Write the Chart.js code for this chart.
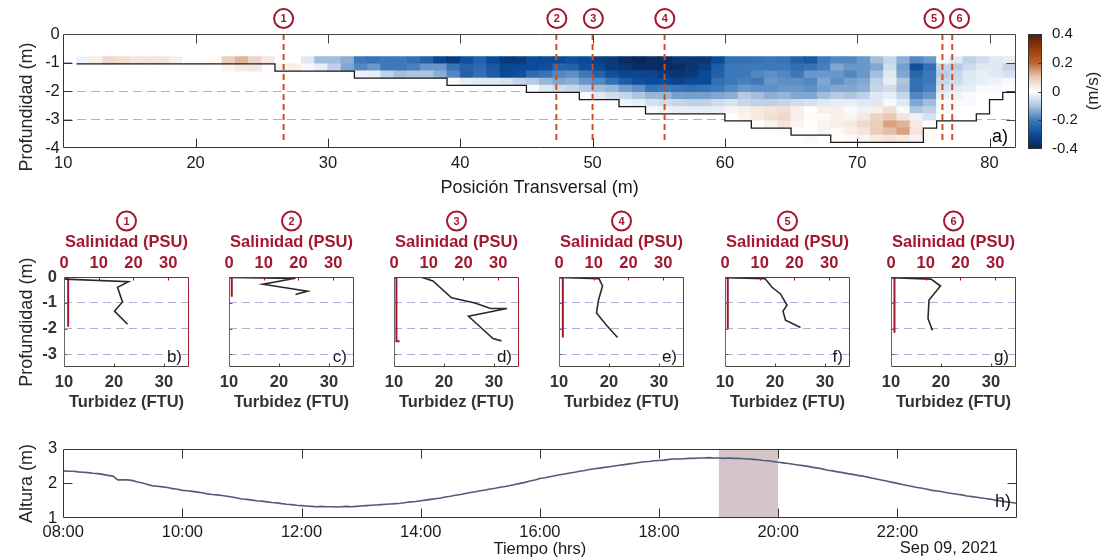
<!DOCTYPE html>
<html>
<head>
<meta charset="utf-8">
<script src="https://cdn.jsdelivr.net/npm/chart.js@4.4.1/dist/chart.umd.min.js"></script>
<style>
  body { margin: 0; background: #fff; }
  #fig { position: relative; width: 1104px; height: 558px; overflow: hidden; background: #fff; }
  #fig canvas { position: absolute; }
</style>
</head>
<body>
<div id="fig"></div>
<script>
// ---------- data ----------
const _ = null;

// velocity section: cells 1 m wide, 0.25 m tall; each row starts at velFirstCol
const depthEdges = [-0.8, -1.05, -1.3, -1.55, -1.8, -2.05, -2.3, -2.55, -2.8, -3.05, -3.3, -3.55, -3.8];
const velFirstCol = [11, 19, 32, 39, 45, 49, 52, 54, 60, 62, 64, 65];
const velocity = [
  [-0.02, 0.03, 0.07, 0.06, 0.05, 0.05, 0.05, 0.03, 0.00, 0.00,
    0.01, 0.09, 0.12, 0.08, 0.04, 0.00, 0.00, -0.04, -0.11, -0.11,
   -0.13, -0.20, -0.21, -0.20, -0.20, -0.22, -0.25, -0.31, -0.34, -0.29,
   -0.25, -0.30, -0.34, -0.34, -0.30, -0.30, -0.30, -0.29, -0.30, -0.33,
   -0.34, -0.37, -0.39, -0.37, -0.37, -0.35, -0.35, -0.35, -0.30, -0.22,
   -0.22, -0.21, -0.20, -0.21, -0.25, -0.27, -0.20, -0.18, -0.18, -0.16,
   -0.11, -0.07, -0.13, -0.18, -0.16, -0.01, -0.04, -0.08, -0.06, -0.04, -0.03],
  [0.01, 0.01, 0.00, 0.02, 0.04, 0.04, _, 0.02, 0.03, -0.01, -0.03, -0.08,
   -0.14, -0.18, -0.16, -0.20, -0.20, -0.19, -0.16, -0.16, -0.21, -0.25,
   -0.23, -0.27, -0.31, -0.30, -0.30, -0.29, -0.24, -0.25, -0.29, -0.31,
   -0.34, -0.35, -0.37, -0.37, -0.38, -0.37, -0.35, -0.33, -0.26, -0.20,
   -0.20, -0.20, -0.20, -0.20, -0.22, -0.21, -0.19, -0.14, -0.16, -0.16,
   -0.14, -0.06, -0.15, -0.29, -0.22, -0.07, -0.09, -0.06, -0.04, -0.04, -0.07],
  [-0.02, -0.03, -0.08, -0.11, -0.10, -0.10, -0.13, -0.18, -0.25,
   -0.22, -0.26, -0.30, -0.29, -0.23, -0.21, -0.18, -0.17, -0.20, -0.25,
   -0.29, -0.31, -0.31, -0.31, -0.34, -0.35, -0.34, -0.30, -0.25, -0.20,
   -0.20, -0.18, -0.17, -0.18, -0.20, -0.16, -0.16, -0.16, -0.18, -0.16,
   -0.11, -0.04, -0.14, -0.24, -0.20, -0.09, -0.07, -0.04, -0.03, -0.04, -0.05],
  [-0.01, -0.03, -0.04, -0.04, -0.05, -0.07, -0.09, -0.12, -0.14, -0.13, -0.16, -0.18,
   -0.22, -0.26, -0.29, -0.30, -0.30, -0.32, -0.30, -0.30, -0.22, -0.20,
   -0.19, -0.20, -0.16, -0.17, -0.17, -0.18, -0.14, -0.17, -0.15, -0.14,
   -0.08, -0.03, -0.10, -0.22, -0.20, -0.07, -0.06, -0.04, -0.03, -0.02, -0.01],
  [-0.01, -0.04, -0.06, -0.07, -0.09, -0.11,
   -0.12, -0.15, -0.17, -0.21, -0.20, -0.21, -0.22, -0.21, -0.20, -0.18,
   -0.16, -0.17, -0.17, -0.16, -0.16, -0.17, -0.15, -0.14, -0.14, -0.13,
   -0.07, -0.06, -0.11, -0.22, -0.19, -0.05, -0.04, -0.03, -0.01, -0.01, 0.00],
  [-0.01, -0.04,
   -0.06, -0.07, -0.10, -0.12, -0.12, -0.15, -0.15, -0.15, -0.14, -0.13,
   -0.09, -0.11, -0.13, -0.12, -0.14, -0.14, -0.11, -0.09, -0.10, -0.08,
   -0.04, -0.03, -0.07, -0.18, -0.16, -0.03, -0.02, -0.01, 0.00, 0.00],
  [-0.02, -0.03, -0.05, -0.06, -0.07, -0.08, -0.08, -0.06, -0.05,
   -0.07, -0.08, -0.08, -0.07, -0.06, -0.05, -0.04, -0.03, -0.03, -0.04,
   -0.04, -0.01, -0.04, -0.14, -0.11, -0.01, -0.01, -0.01, 0.00],
  [-0.01, -0.02, -0.03, -0.03, -0.03, -0.03, 0.02,
    0.03, 0.04, 0.05, 0.06, 0.03, 0.00, 0.03, 0.03, -0.01, -0.02,
    0.03, 0.06, -0.01, -0.10, -0.08, -0.01, 0.00, 0.00, 0.00],
  [0.00, 0.02, 0.04, 0.06, 0.07, 0.03, 0.01, 0.01, 0.03, 0.02, 0.04,
   0.08, 0.10, 0.05, -0.02, -0.05, 0.00, 0.00, 0.00],
  [0.00, 0.02, 0.05, 0.02, 0.00, 0.02, 0.03, 0.04, 0.07,
   0.09, 0.14, 0.12, 0.04, 0.00],
  [0.01, 0.00, 0.00, 0.02, 0.01, 0.03, 0.05,
   0.09, 0.11, 0.14, 0.05, 0.01],
  [0.00, -0.01, 0.00, 0.00, 0.01, 0.02,
   0.04, 0.05, 0.04, 0.02, 0.01]
];

// bottom profile (depth from each x to the next)
const bathX = [11, 26, 32, 39, 45, 49, 52, 54, 60, 62, 65, 68, 75, 76, 79, 80, 81, 82];
const bathZ = [-1.05, -1.3, -1.55, -1.8, -2.05, -2.3, -2.55, -2.8, -3.05, -3.3, -3.55, -3.8, -3.3, -3.05, -2.8, -2.3, -2.05, -2.05];

// profile stations (line position, and where its circled number sits)
const stationX = [26.65, 47.26, 50.0, 55.44, 76.44, 77.18];
const stationLabelX = [26.65, 47.3, 50.06, 55.46, 75.8, 77.73];
const stationLabel = ['1', '2', '3', '4', '5', '6'];

// colour scale (m/s)
const cmapValue = [-0.4, -0.3, -0.2, -0.1, 0, 0.1, 0.2, 0.3, 0.4];
const cmapColor = ['#0a2150', '#0b4a98', '#3c78ba', '#aec5e0', '#ffffff', '#e8c9b6', '#c0622c', '#963a0c', '#4f1a07'];

// vertical profiles at the six stations
const salinityPSU = [
  [0, 1.2, 1.2],
  [0, 0.8, 0.8],
  [0, 0.7, 0.7, 1.6],
  [0, 1.1, 1.1],
  [0, 0.8, 0.8],
  [0, 1.0, 1.0]
];
const salinityDepth = [
  [0, -0.04, -1.93],
  [0, -0.03, -0.76],
  [0, -0.04, -2.5, -2.5],
  [0, -0.03, -2.35],
  [0, -0.03, -2.0],
  [0, -0.03, -2.16]
];
const turbidityFTU = [
  [10.2, 22.9, 20.7, 21.7, 20.1, 22.7],
  [10.3, 23.3, 16.8, 25.7, 23.3],
  [15.5, 17.8, 21.5, 26.2, 29.3, 32.6, 24.9, 27.2, 29.8, 31.5],
  [10.2, 18.0, 18.7, 17.9, 17.5, 19.5, 21.7],
  [10.2, 18.0, 19.4, 21.1, 22.4, 21.6, 22.1, 25.1],
  [10.2, 18.0, 19.9, 17.6, 17.4, 17.9, 18.3]
];
const turbidityDepth = [
  [-0.07, -0.17, -0.39, -0.96, -1.32, -1.83],
  [-0.01, -0.04, -0.27, -0.54, -0.67],
  [0, -0.14, -0.8, -1.0, -1.22, -1.22, -1.52, -1.93, -2.39, -2.48],
  [-0.01, -0.05, -0.34, -0.89, -1.39, -1.87, -2.35],
  [-0.02, -0.05, -0.39, -0.65, -1.09, -1.32, -1.67, -1.96],
  [-0.02, -0.07, -0.34, -0.89, -1.61, -1.87, -2.07]
];
const panelTag = ['b)', 'c)', 'd)', 'e)', 'f)', 'g)'];

// water level, every 5 minutes from 08:00
const tideStartHour = 8;
const tideStepMin = 5;
const tideLevel = [
  2.36, 2.35, 2.35, 2.33, 2.32, 2.31, 2.29, 2.28, 2.26, 2.23, 2.21, 2.10,
  2.10, 2.10, 2.08, 2.04, 2.01, 1.97, 1.93, 1.92, 1.90, 1.88, 1.85, 1.83,
  1.80, 1.79, 1.77, 1.75, 1.73, 1.70, 1.68, 1.67, 1.65, 1.63, 1.61, 1.58,
  1.55, 1.54, 1.52, 1.50, 1.49, 1.47, 1.45, 1.44, 1.42, 1.40, 1.39, 1.37,
  1.36, 1.35, 1.34, 1.33, 1.34, 1.33, 1.33, 1.32, 1.33, 1.34, 1.33, 1.34,
  1.35, 1.36, 1.37, 1.38, 1.39, 1.40, 1.41, 1.42, 1.43, 1.45, 1.47, 1.48,
  1.50, 1.52, 1.54, 1.56, 1.58, 1.61, 1.63, 1.66, 1.68, 1.71, 1.74, 1.76,
  1.79, 1.81, 1.84, 1.86, 1.89, 1.91, 1.94, 1.97, 2.00, 2.03, 2.07, 2.10,
  2.14, 2.16, 2.19, 2.22, 2.25, 2.27, 2.30, 2.32, 2.35, 2.37, 2.40, 2.42,
  2.44, 2.46, 2.48, 2.50, 2.52, 2.54, 2.56, 2.58, 2.60, 2.62, 2.63, 2.65,
  2.66, 2.67, 2.69, 2.70, 2.70, 2.71, 2.72, 2.72, 2.73, 2.73, 2.74, 2.73,
  2.73, 2.72, 2.73, 2.72, 2.72, 2.71, 2.70, 2.69, 2.68, 2.66, 2.65, 2.63,
  2.61, 2.59, 2.57, 2.55, 2.53, 2.51, 2.49, 2.46, 2.44, 2.41, 2.38, 2.36,
  2.33, 2.31, 2.28, 2.26, 2.23, 2.21, 2.18, 2.15, 2.12, 2.09, 2.06, 2.03,
  2.00, 1.97, 1.94, 1.91, 1.88, 1.86, 1.83, 1.80, 1.78, 1.76, 1.73, 1.71,
  1.69, 1.67, 1.64, 1.62, 1.60, 1.58, 1.56, 1.54, 1.51, 1.49, 1.47, 1.45,
  1.43
];
const sampledHours = [19, 20];

// ---------- helpers ----------
const FONT = "'Liberation Sans', Arial, Helvetica, sans-serif";
const RED = '#a3172f';
const DARK = '#262626';
const GRID = 'rgba(135,140,195,0.7)';

Chart.defaults.font.family = FONT;
Chart.defaults.color = DARK;
Chart.defaults.animation = false;
Chart.defaults.plugins.legend.display = false;
Chart.defaults.plugins.tooltip.enabled = false;

function addCanvas(left, top, w, h) {
  const c = document.createElement('canvas');
  c.width = w; c.height = h;
  c.style.left = left + 'px'; c.style.top = top + 'px';
  c.style.width = w + 'px'; c.style.height = h + 'px';
  document.getElementById('fig').appendChild(c);
  return c;
}

function hexToRgb(h) {
  const n = parseInt(h.slice(1), 16);
  return [(n >> 16) & 255, (n >> 8) & 255, n & 255];
}

function velColor(v) {
  v = Math.max(-0.4, Math.min(0.4, v));
  for (let i = 0; i < cmapValue.length - 1; i++) {
    if (v <= cmapValue[i + 1]) {
      const t = (v - cmapValue[i]) / (cmapValue[i + 1] - cmapValue[i]);
      const a = hexToRgb(cmapColor[i]), b = hexToRgb(cmapColor[i + 1]);
      return 'rgb(' + a.map((c, k) => Math.round(c + (b[k] - c) * t)).join(',') + ')';
    }
  }
  return cmapColor[cmapColor.length - 1];
}

function fixedTicks(values) {
  return s => { s.ticks = values.map(v => ({ value: v })); };
}

// dashed grid only inside the box, not on its edges
function innerGrid(edges) {
  return c => (c.tick && edges.includes(c.tick.value)) ? 'rgba(0,0,0,0)' : GRID;
}

// box round the plot area with inward tick marks, MATLAB style
function framePlugin(sides) {
  return {
    id: 'frame',
    afterDatasetsDraw(chart) {
      const ctx = chart.ctx, a = chart.chartArea;
      const L = Math.round(a.left) + 0.5, R = Math.round(a.right) - 0.5;
      const T = Math.round(a.top) + 0.5, B = Math.round(a.bottom) - 0.5;
      ctx.save();
      ctx.setLineDash([]);
      sides.forEach(s => {
        ctx.strokeStyle = s.color;
        ctx.lineWidth = 1;
        ctx.beginPath();
        if (s.side === 'bottom') { ctx.moveTo(L, B); ctx.lineTo(R, B); }
        if (s.side === 'top') { ctx.moveTo(L, T); ctx.lineTo(R, T); }
        if (s.side === 'left') { ctx.moveTo(L, T); ctx.lineTo(L, B); }
        if (s.side === 'right') { ctx.moveTo(R, T); ctx.lineTo(R, B); }
        const sc = chart.scales[s.axis];
        (s.ticks || []).forEach(v => {
          const p = Math.round(sc.getPixelForValue(v)) + 0.5;
          if (s.side === 'bottom') { ctx.moveTo(p, B); ctx.lineTo(p, B - s.len); }
          if (s.side === 'top') { ctx.moveTo(p, T); ctx.lineTo(p, T + s.len); }
          if (s.side === 'left') { ctx.moveTo(L, p); ctx.lineTo(L + s.len, p); }
          if (s.side === 'right') { ctx.moveTo(R, p); ctx.lineTo(R - s.len, p); }
        });
        ctx.stroke();
      });
      ctx.restore();
    }
  };
}

function circledNumber(ctx, x, y, text) {
  ctx.save();
  ctx.beginPath();
  ctx.arc(x, y, 9.5, 0, Math.PI * 2);
  ctx.fillStyle = '#fff';
  ctx.fill();
  ctx.lineWidth = 2;
  ctx.strokeStyle = RED;
  ctx.stroke();
  ctx.fillStyle = RED;
  ctx.font = 'bold 11px ' + FONT;
  ctx.textAlign = 'center';
  ctx.textBaseline = 'middle';
  ctx.fillText(text, x, y + 0.5);
  ctx.restore();
}

// ---------- a) velocity section ----------
const cells = [], cellColors = [];
velocity.forEach((row, r) => {
  row.forEach((v, i) => {
    if (v === null) return;
    cells.push({ x: velFirstCol[r] + i + 0.5, y: [depthEdges[r + 1], depthEdges[r]] });
    cellColors.push(velColor(v));
  });
});

const sectionDatasets = [
  {
    type: 'scatter',
    data: stationLabelX.map(x => ({ x: x, y: 0.54 })),
    pointRadius: 0,
    clip: false,
    order: 1
  },
  {
    type: 'line',
    data: bathX.map((x, i) => ({ x: x, y: bathZ[i] })),
    stepped: 'before',
    borderColor: '#1a1a1a',
    borderWidth: 1.3,
    pointRadius: 0,
    order: 3
  },
  {
    type: 'bar',
    data: cells,
    backgroundColor: cellColors,
    borderWidth: 0,
    barPercentage: 1,
    categoryPercentage: 1,
    inflateAmount: 0.5,
    order: 5
  }
];
stationX.forEach(sx => {
  sectionDatasets.push({
    type: 'line',
    data: [{ x: sx, y: 0 }, { x: sx, y: -3.82 }],
    borderColor: '#d0501c',
    borderWidth: 2,
    borderDash: [6, 4],
    pointRadius: 0,
    order: 2
  });
});

const sectionText = {
  id: 'sectionText',
  afterDraw(chart) {
    const ctx = chart.ctx, a = chart.chartArea;
    chart.getDatasetMeta(0).data.forEach((pt, i) => circledNumber(ctx, pt.x, pt.y, stationLabel[i]));
    ctx.save();
    ctx.fillStyle = '#000';
    ctx.font = '18px ' + FONT;
    ctx.textAlign = 'right';
    ctx.textBaseline = 'middle';
    ctx.fillText('a)', a.right - 8, a.bottom - 11);
    ctx.translate(27, 107);
    ctx.rotate(-Math.PI / 2);
    ctx.textAlign = 'center';
    ctx.fillStyle = DARK;
    ctx.fillText('Profundidad (m)', 0, 0);
    ctx.restore();
  }
};

new Chart(addCanvas(0, 0, 1024, 200), {
  type: 'bar',
  data: { datasets: sectionDatasets },
  options: {
    responsive: false,
    layout: { padding: { left: 0, top: 34, right: 8, bottom: 0 } },
    scales: {
      x: {
        type: 'linear', min: 10, max: 82, offset: false,
        afterBuildTicks: fixedTicks([10, 20, 30, 40, 50, 60, 70, 80]),
        afterFit: s => { s.height = 52; },
        grid: { display: false, drawTicks: false, offset: false },
        border: { display: false },
        ticks: { padding: 5.5, font: { size: 16.5 }, color: '#1a1a1a', maxRotation: 0 },
        title: { display: true, text: 'Posición Transversal (m)', font: { size: 18 }, color: '#1a1a1a', padding: { top: 0, bottom: 1 } }
      },
      y: {
        type: 'linear', min: -4, max: 0,
        afterBuildTicks: fixedTicks([0, -1, -2, -3, -4]),
        afterFit: s => { s.width = 63.3; },
        grid: { color: innerGrid([0, -4]), drawTicks: false },
        border: { display: false, dash: [9, 5] },
        ticks: { padding: 3.5, font: { size: 16.5 }, color: '#1a1a1a', callback: v => String(v) }
      }
    }
  },
  plugins: [framePlugin([
    { side: 'bottom', axis: 'x', ticks: [20, 30, 40, 50, 60, 70, 80], len: 9, color: '#333' },
    { side: 'top', axis: 'x', ticks: [20, 30, 40, 50, 60, 70, 80], len: 9, color: '#444' },
    { side: 'left', axis: 'y', ticks: [-1, -2, -3], len: 9, color: '#333' },
    { side: 'right', axis: 'y', ticks: [-1, -2, -3], len: 9, color: '#444' }
  ]), sectionText]
});

// ---------- colour bar ----------
const cbarFill = {
  id: 'cbarFill',
  beforeDatasetsDraw(chart) {
    const ctx = chart.ctx, a = chart.chartArea, y = chart.scales.y;
    const g = ctx.createLinearGradient(0, y.getPixelForValue(-0.4), 0, y.getPixelForValue(0.4));
    cmapValue.forEach((v, i) => g.addColorStop((v + 0.4) / 0.8, cmapColor[i]));
    ctx.save();
    ctx.fillStyle = g;
    ctx.fillRect(a.left, a.top, a.right - a.left, a.bottom - a.top);
    ctx.translate(73, 91);
    ctx.rotate(-Math.PI / 2);
    ctx.font = '17px ' + FONT;
    ctx.fillStyle = DARK;
    ctx.textAlign = 'center';
    ctx.textBaseline = 'middle';
    ctx.fillText('(m/s)', 0, 0);
    ctx.restore();
  }
};

new Chart(addCanvas(1020, 0, 84, 200), {
  type: 'bar',
  data: { labels: [], datasets: [] },
  options: {
    responsive: false,
    layout: { padding: { left: 8, top: 34, right: 0, bottom: 51 } },
    scales: {
      x: { display: false },
      y: {
        position: 'right', min: -0.4, max: 0.4,
        afterBuildTicks: fixedTicks([-0.4, -0.2, 0, 0.2, 0.4]),
        afterFit: s => { s.width = 62; },
        grid: { display: false, drawTicks: false },
        border: { display: false },
        ticks: { padding: 10, font: { size: 15 }, color: '#1a1a1a', callback: v => v === 0 ? '0' : v.toFixed(1) }
      }
    }
  },
  plugins: [cbarFill, framePlugin([
    { side: 'bottom', axis: 'y', len: 0, color: '#333' },
    { side: 'top', axis: 'y', len: 0, color: '#333' },
    { side: 'left', axis: 'y', len: 0, color: '#333' },
    { side: 'right', axis: 'y', ticks: [-0.2, 0, 0.2], len: 3, color: '#333' }
  ])]
});

// ---------- b) - g) station profiles ----------
const panelLeft = [64, 229, 394, 559, 725, 891];
const panelWidth = 125;

function makePanel(k) {
  const padL = k === 0 ? 64 : 22;
  const padR = 12;
  const panelText = {
    id: 'panelText',
    afterDraw(chart) {
      const ctx = chart.ctx, a = chart.chartArea;
      circledNumber(ctx, (a.left + a.right) / 2, 21, stationLabel[k]);
      ctx.save();
      ctx.font = '17px ' + FONT;
      ctx.fillStyle = '#1a1a1a';
      ctx.textAlign = 'right';
      ctx.textBaseline = 'middle';
      ctx.fillText(panelTag[k], a.right - 7, a.bottom - 10);
      ctx.restore();
    }
  };
  new Chart(addCanvas(panelLeft[k] - padL, 200, padL + panelWidth + padR, 220), {
    type: 'scatter',
    data: {
      datasets: [
        {
          data: turbidityFTU[k].map((v, i) => ({ x: v, y: turbidityDepth[k][i] })),
          xAxisID: 'x', showLine: true, borderColor: '#2a2a2a', borderWidth: 1.6, pointRadius: 0
        },
        {
          data: salinityPSU[k].map((v, i) => ({ x: v, y: salinityDepth[k][i] })),
          xAxisID: 'x2', showLine: true, borderColor: RED, borderWidth: 2, pointRadius: 0
        }
      ]
    },
    options: {
      responsive: false,
      layout: { padding: { left: 0, top: 0, right: padR, bottom: 0 } },
      scales: {
        x: {
          type: 'linear', position: 'bottom', min: 10, max: 35,
          afterBuildTicks: fixedTicks([10, 20, 30]),
          afterFit: s => { s.height = 53; },
          grid: { display: false, drawTicks: false },
          border: { display: false },
          ticks: { padding: 5.5, font: { size: 16.5, weight: 'bold' }, color: '#333', maxRotation: 0 },
          title: { display: true, text: 'Turbidez (FTU)', font: { size: 16.5, weight: 'bold' }, color: '#333', padding: { top: 0, bottom: 8 } }
        },
        x2: {
          type: 'linear', position: 'top', min: 0, max: 36,
          afterBuildTicks: fixedTicks([0, 10, 20, 30]),
          afterFit: s => { s.height = 77.3; },
          grid: { display: false, drawTicks: false },
          border: { display: false },
          ticks: { padding: 4.4, font: { size: 16.5, weight: 'bold' }, color: RED, maxRotation: 0 },
          title: { display: true, text: 'Salinidad (PSU)', font: { size: 16.5, weight: 'bold' }, color: RED, padding: { top: 33, bottom: 0 } }
        },
        y: {
          type: 'linear', min: -3.5, max: 0,
          afterBuildTicks: fixedTicks([0, -1, -2, -3]),
          afterFit: s => { s.width = padL; },
          grid: { color: innerGrid([0]), drawTicks: false },
          border: { display: false, dash: [8, 5] },
          ticks: { display: k === 0, padding: 7, font: { size: 16.5, weight: 'bold' }, color: '#333', callback: v => String(v) },
          title: { display: k === 0, text: 'Profundidad (m)', font: { size: 18 }, color: DARK, padding: { top: 16, bottom: 0 } }
        }
      }
    },
    plugins: [framePlugin([
      { side: 'bottom', axis: 'x', ticks: [20, 30], len: 3, color: '#444' },
      { side: 'left', axis: 'y', ticks: [-1, -2, -3], len: 3, color: '#666' },
      { side: 'top', axis: 'x2', ticks: [10, 20, 30], len: 3, color: RED },
      { side: 'right', axis: 'y', len: 0, color: RED }
    ]), panelText]
  });
}
for (let k = 0; k < 6; k++) makePanel(k);

// ---------- h) water level ----------
const tidePoints = tideLevel.map((v, i) => ({ x: tideStartHour + i * tideStepMin / 60, y: v }));

const tideText = {
  id: 'tideText',
  afterDraw(chart) {
    const ctx = chart.ctx;
    ctx.save();
    ctx.fillStyle = '#1a1a1a';
    ctx.textAlign = 'right';
    ctx.textBaseline = 'middle';
    ctx.font = '18px ' + FONT;
    ctx.fillText('h)', 1011, 82);
    ctx.font = '16.5px ' + FONT;
    ctx.fillText('Sep 09, 2021', 998, 128);
    ctx.restore();
  }
};

new Chart(addCanvas(0, 420, 1030, 138), {
  type: 'line',
  data: {
    datasets: [
      {
        data: tidePoints,
        borderColor: '#4f5d7a',
        borderWidth: 1.6,
        pointRadius: 0,
        order: 1
      },
      {
        data: sampledHours.map(h => ({ x: h, y: 3 })),
        borderWidth: 0,
        pointRadius: 0,
        backgroundColor: '#d5c5c8',
        fill: { target: { value: 1 } },
        order: 2
      }
    ]
  },
  options: {
    responsive: false,
    layout: { padding: { left: 0, top: 28.6, right: 13.4, bottom: 0 } },
    scales: {
      x: {
        type: 'linear', min: 8, max: 24,
        afterBuildTicks: fixedTicks([8, 10, 12, 14, 16, 18, 20, 22]),
        afterFit: s => { s.height = 39.8; },
        grid: { display: false, drawTicks: false },
        border: { display: false },
        ticks: { padding: 4.5, font: { size: 16.5 }, color: '#1a1a1a', maxRotation: 0,
                 callback: v => String(v).padStart(2, '0') + ':00' },
        title: { display: true, text: 'Tiempo (hrs)', font: { size: 16.5 }, color: '#1a1a1a', padding: { top: 0, bottom: -1 } }
      },
      y: {
        type: 'linear', min: 1, max: 3,
        afterBuildTicks: fixedTicks([1, 2, 3]),
        afterFit: s => { s.width = 63.2; },
        grid: { display: false, drawTicks: false },
        border: { display: false },
        ticks: { padding: 6, font: { size: 16.5 }, color: '#1a1a1a' },
        title: { display: true, text: 'Altura (m)', font: { size: 18 }, color: DARK, padding: { top: 16, bottom: 0 } }
      }
    }
  },
  plugins: [framePlugin([
    { side: 'bottom', axis: 'x', ticks: [10, 12, 14, 16, 18, 20, 22], len: 9, color: '#333' },
    { side: 'top', axis: 'x', ticks: [10, 12, 14, 16, 18, 20, 22], len: 9, color: '#333' },
    { side: 'left', axis: 'y', ticks: [2], len: 9, color: '#333' },
    { side: 'right', axis: 'y', ticks: [2], len: 9, color: '#333' }
  ]), tideText]
});
</script>
</body>
</html>
